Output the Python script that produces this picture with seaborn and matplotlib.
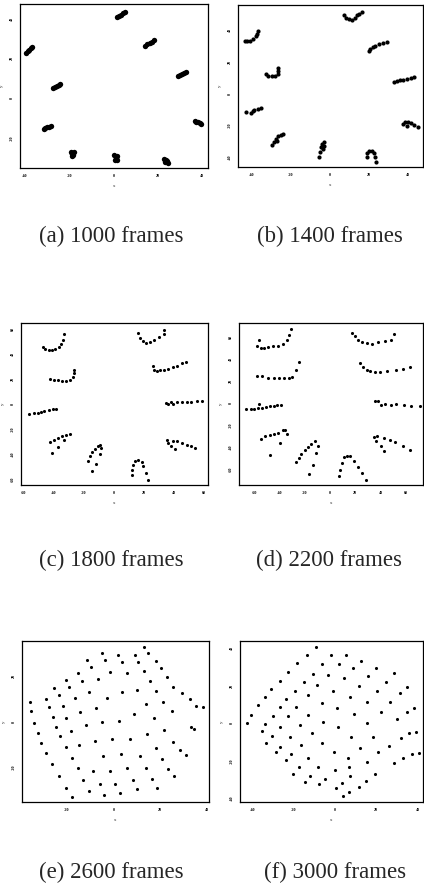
import matplotlib
matplotlib.use('Agg')
import matplotlib.pyplot as plt
import seaborn as sns
import pandas as pd

sns.set_style('white')
plt.rcParams['font.family'] = ['Liberation Serif', 'DejaVu Serif']

# ---- point positions ----
# (a) 1000 frames
a_x = [1.5, 2.4, 3.3, 4.2, 5.1, 14.3, 15.2, 16.2, 17.1, 18.0,
       -39.3, -38.7, -38.1, -37.4, -36.8, 29.0, 29.9, 30.8, 31.8, 32.7,
       -27.3, -26.4, -25.7, -24.8, -24.0, -31.5, -30.8, -30.0, -29.1, -28.4,
       36.5, 37.2, 38.0, 38.7, 39.5, -19.2, -18.0, -18.6, -18.9, -18.3,
       0.3, 1.5, 0.9, 0.6, 1.5, 22.5, 23.4, 24.0, 24.6, 23.3]
a_y = [40.8, 41.5, 42.0, 42.7, 43.3, 26.4, 27.0, 27.7, 28.4, 29.1,
       22.7, 23.5, 24.2, 25.0, 25.7, 11.3, 11.6, 12.1, 12.6, 12.9,
       5.0, 5.5, 6.0, 6.7, 7.2, -15.3, -15.0, -14.6, -14.3, -13.9,
       -11.3, -11.8, -12.1, -12.4, -12.9, -26.9, -27.0, -28.1, -29.1, -28.7,
       -28.7, -29.1, -30.1, -31.1, -31.2, -30.4, -30.9, -31.8, -32.4, -31.9]

# (b) 1400 frames
b_x = [7.1, 8.5, 9.8, 11.3, 12.7, 14.0, 15.2, 16.4,
       20.3, 20.8, 22.0, 23.2, 25.4, 27.0, 29.2,
       -43.4, -42.1, -40.6, -38.9, -37.7, -37.0, -36.3,
       -32.6, -31.3, -29.6, -27.9, -26.5, -26.2, -26.5,
       33.0, 34.3, 35.7, 37.2, 39.4, 41.4, 43.3,
       -42.8, -40.1, -38.4, -36.7, -35.0, -38.9,
       37.2, 38.4, 40.1, 41.4, 42.8, 45.1, 39.7,
       -29.2, -28.6, -27.4, -26.2, -24.8, -24.0, -26.9,
       -5.6, -5.1, -4.6, -3.9, -3.0, -2.9, -3.4,
       18.9, 19.1, 19.9, 21.5, 22.5, 23.2, 23.5]
b_y = [48.9, 47.4, 46.4, 46.2, 47.4, 48.9, 49.9, 51.0,
       26.6, 28.1, 29.1, 29.5, 30.8, 31.6, 32.4,
       32.9, 32.7, 33.1, 33.9, 35.8, 37.4, 39.1,
       12.1, 11.0, 10.8, 11.2, 12.1, 14.1, 15.8,
       7.3, 7.9, 8.3, 8.7, 9.2, 9.6, 10.2,
       -11.4, -12.1, -10.4, -9.4, -9.2, -11.0,
       -19.1, -17.9, -17.7, -18.7, -19.8, -20.8, -20.4,
       -32.4, -30.2, -28.1, -26.6, -25.6, -25.0, -29.5,
       -39.5, -36.4, -33.3, -31.2, -30.2, -32.9, -34.9,
       -39.9, -37.4, -35.8, -35.8, -37.4, -39.5, -42.6]

# (c) 1800 frames
c_x = [-46.9, -45.3, -43.1, -40.9, -38.7, -36.5, -34.9, -33.8, -32.7,
       -42.0, -39.8, -37.1, -34.3, -31.4, -28.7, -27.0, -26.1, -26.1,
       -56.4, -53.0, -50.4, -48.2, -46.0, -43.1, -40.2, -38.5,
       -42.4, -39.8, -37.1, -34.3, -31.4, -29.2, -33.2, -40.9, -37.1,
       -17.2, -15.9, -14.4, -12.6, -10.6, -8.8, -8.2, -8.8, -11.5, -14.4,
       12.2, 12.2, 12.8, 14.4, 16.6, 18.8, 19.9, 21.4, 22.8,
       16.1, 17.7, 19.4, 21.7, 24.3, 27.0, 30.5, 33.6, 33.6,
       26.5, 27.0, 28.7, 30.9, 33.6, 36.5, 39.3, 42.0, 45.3, 48.2,
       34.7, 36.5, 38.0, 39.8, 42.0, 45.3, 48.6, 51.9, 55.3, 59.2,
       35.4, 36.5, 38.0, 39.8, 42.4, 45.3, 48.6, 51.3, 54.1, 40.9]
c_y = [46.2, 44.3, 43.5, 43.5, 44.1, 45.7, 48.3, 51.5, 56.3,
       20.3, 19.5, 19.0, 18.7, 18.7, 19.5, 21.6, 24.8, 27.5,
       -7.7, -7.2, -6.7, -6.1, -5.3, -4.5, -4.0, -3.7,
       -30.7, -28.6, -27.2, -25.9, -24.6, -23.8, -28.6, -39.2, -34.7,
       -45.9, -41.9, -38.7, -35.8, -33.9, -32.6, -35.2, -39.8, -47.8, -53.9,
       -56.6, -52.6, -48.6, -45.9, -45.1, -46.7, -49.9, -55.3, -60.6,
       56.9, 53.4, 51.0, 49.4, 50.2, 51.5, 53.7, 56.3, 59.5,
       30.2, 27.0, 26.2, 27.0, 27.5, 28.3, 29.4, 30.7, 32.8, 33.4,
       1.3, 0.3, 2.1, 0.3, 2.1, 2.1, 2.1, 2.1, 2.7, 2.9,
       -28.6, -31.2, -33.9, -29.9, -29.9, -31.2, -32.6, -33.4, -35.2, -36.0]

# (d) 2200 frames
d_x = [-56.5, -58.4, -55.2, -52.6, -49.2, -45.5, -41.3, -37.6, -34.2, -32.3, -30.8,
       -57.9, -54.4, -49.2, -44.7, -40.8, -36.8, -32.9, -30.2, -27.1, -25.0,
       -66.5, -63.1, -60.5, -57.3, -54.4, -51.3, -48.1, -44.7, -42.1, -38.7, -56.5,
       -55.2, -51.8, -48.1, -44.7, -41.3, -37.6, -35.5, -34.2, -39.5, -48.1,
       -27.1, -25.0, -22.9, -20.3, -17.6, -15.0, -11.8, -9.7, -11.3, -13.9, -16.6,
       7.1, 8.2, 9.2, 11.3, 13.2, 15.8, 19.2, 22.4, 25.5, 28.1,
       17.6, 19.7, 22.4, 25.5, 28.9, 32.9, 38.1, 43.9, 48.7, 50.8,
       23.7, 26.3, 28.9, 31.6, 35.5, 39.5, 45.5, 52.6, 57.9, 63.6,
       35.5, 38.1, 40.8, 43.4, 48.1, 52.6, 58.6, 64.4, 71.0,
       35.0, 37.6, 36.8, 40.8, 42.9, 42.9, 47.3, 51.8, 57.9, 63.1]
d_y = [57.0, 52.1, 50.0, 50.0, 50.6, 51.5, 52.4, 53.9, 57.6, 62.1, 67.3,
       24.8, 25.1, 23.0, 23.0, 23.0, 23.0, 23.0, 24.2, 29.7, 37.0,
       -5.5, -5.2, -5.2, -4.5, -4.5, -3.6, -3.0, -2.4, -1.8, -1.5, -0.6,
       -32.7, -30.3, -28.8, -27.9, -26.7, -24.8, -24.2, -27.9, -35.8, -47.0,
       -53.9, -50.0, -46.1, -43.0, -40.0, -37.0, -34.8, -38.8, -45.5, -56.1, -64.2,
       -65.8, -60.6, -54.5, -49.1, -48.5, -47.9, -53.0, -57.6, -63.6, -70.3,
       63.6, 60.6, 57.6, 55.4, 54.5, 53.9, 55.4, 56.1, 57.6, 63.0,
       36.4, 33.3, 30.3, 28.8, 27.9, 27.9, 29.4, 30.3, 30.9, 32.7,
       2.1, 2.4, -1.5, -0.6, -1.5, -0.9, -1.5, -2.4, -2.4,
       -30.9, -30.3, -34.8, -39.4, -43.9, -31.8, -33.3, -35.5, -39.4, -43.0]

# (e) 2600 frames
e_x = [13.2, 15.0, -5.0, 2.1, 9.3, -11.4, -3.6, 3.6, 10.7, 18.2,
       -9.7, -1.4, 6.0, 13.2, 20.4, -15.4, -20.4, -13.6, -6.7, 15.7,
       23.2, -25.5, -19.3, 25.7, -29.0, -23.6, -16.4, -10.7, -2.9, 3.6,
       10.0, 18.3, 29.3, -36.0, -35.5, -27.9, -21.9, -14.3, -7.6, 13.9,
       21.5, 32.9, 35.5, 38.3, -26.2, -20.4, 8.9, 17.6, 25.0, -5.0,
       2.4, -34.0, -24.6, -18.2, -11.7, 33.2, 34.6, 21.6, -32.6, -22.9,
       14.3, -0.7, 7.2, -7.9, -31.2, -20.3, -14.7, 25.5, 18.3, 28.6,
       -28.9, -17.9, -4.3, 3.1, 11.4, 31.0, 20.7, -26.3, -15.3, -8.6,
       -1.4, 5.7, 14.0, 23.6, -23.6, -12.9, -5.7, 0.7, 8.2, 16.6,
       26.0, -20.4, -10.3, -3.9, 2.9, 10.0, 18.6, -17.9]
e_y = [32.3, 30.0, 29.7, 29.0, 29.0, 26.8, 26.8, 26.1, 26.1, 26.5,
       23.6, 21.8, 21.0, 22.0, 23.2, 21.3, 18.1, 17.8, 18.4, 17.7,
       19.3, 14.8, 15.2, 14.9, 9.9, 11.6, 10.4, 13.1, 10.4, 12.8,
       13.8, 13.3, 12.3, 8.4, 4.6, 6.5, 6.8, 4.4, 6.2, 7.7,
       8.4, 9.7, 6.8, 6.5, 1.9, 1.5, 3.2, 1.5, 4.6, 0.0,
       0.4, -0.7, -2.2, -3.9, -1.5, -2.2, -3.3, -3.6, -5.1, -6.1,
       -5.4, -7.5, -7.5, -8.4, -9.4, -10.9, -10.3, -8.7, -11.3, -12.3,
       -13.6, -15.7, -14.9, -14.1, -14.8, -14.4, -16.2, -18.4, -20.3, -21.5,
       -21.5, -19.9, -19.9, -20.6, -23.5, -25.4, -27.1, -27.1, -25.5, -24.9,
       -23.6, -28.6, -30.2, -31.9, -31.2, -29.4, -28.9, -32.6]

# (f) 3000 frames
f_x = [-9.1, -13.3, -2.1, 5.3, 12.5, -18.4, -6.1, 2.1, 8.8, 19.7,
       -22.7, -10.7, -3.2, 4.2, 16.0, 28.3, -26.7, -15.2, -8.8, 11.5,
       24.5, 34.9, -30.7, -19.2, -13.1, -0.8, 20.3, 31.2, -33.9, -23.7,
       7.2, 15.7, 26.7, 38.4, -37.1, -26.4, -18.7, -6.4, 0.8, 34.6,
       -40.6, -29.9, -22.7, -12.8, 9.1, 22.4, 29.9, -42.4, -33.6, -26.4,
       -16.8, -5.6, 1.3, 15.5, 39.2, -35.5, -30.4, -21.6, -11.2, 7.5,
       18.4, 31.7, 36.0, -33.1, -26.4, -16.5, -6.4, 12.3, 26.1, 37.3,
       40.8, -28.5, -21.1, -13.1, -0.5, 6.1, 20.8, 32.8, -23.7, -17.3,
       -8.0, 0.0, 6.9, 15.5, 28.5, -20.3, -12.3, -4.8, 7.2, 19.2,
       -14.7, -7.5, 3.2, 11.5, 14.9, 0.3, 6.9, 4.0]
f_y = [40.7, 36.3, 36.3, 36.3, 33.3, 31.9, 31.5, 31.5, 29.2, 29.2,
       27.4, 26.2, 25.7, 23.9, 25.3, 26.6, 22.7, 22.1, 20.4, 19.8,
       22.1, 19.1, 18.2, 17.3, 15.0, 17.3, 17.2, 15.9, 14.2, 12.9,
       13.8, 11.5, 11.5, 8.1, 9.7, 8.9, 8.9, 11.0, 8.0, 5.8,
       4.4, 4.1, 4.1, 4.4, 5.0, 5.8, 2.3, 0.0, -0.5, -1.8,
       -0.9, 0.9, -2.1, 0.4, -4.4, -4.1, -6.7, -7.1, -5.3, -7.1,
       -7.4, -8.0, -5.3, -10.3, -12.4, -11.7, -10.6, -12.9, -11.9, -16.3,
       -15.9, -15.4, -16.5, -18.2, -15.4, -18.2, -15.4, -18.6, -19.5, -23.4,
       -23.0, -24.8, -23.0, -20.4, -21.2, -26.6, -28.0, -29.7, -27.8, -26.9,
       -31.0, -32.4, -31.5, -33.6, -30.6, -34.5, -36.3, -38.6]

captions = ['(a) 1000 frames', '(b) 1400 frames', '(c) 1800 frames',
            '(d) 2200 frames', '(e) 2600 frames', '(f) 3000 frames']

panels = [
    dict(x=a_x, y=a_y, xlim=(-42.2, 42.4), ylim=(-35.0, 47.1),
         xt=[-40, -20, 0, 20, 40], yt=[-20, 0, 20, 40], s=15,
         rect=[0.047, 0.810, 0.443, 0.185], cap=(0.262, 0.7327)),
    dict(x=b_x, y=b_y, xlim=(-46.8, 47.5), ylim=(-45.8, 55.1),
         xt=[-40, -20, 0, 20, 40], yt=[-40, -20, 0, 20, 40], s=9,
         rect=[0.561, 0.811, 0.436, 0.183], cap=(0.777, 0.7327)),
    dict(x=c_x, y=c_y, xlim=(-61.4, 63.0), ylim=(-64.6, 64.9),
         xt=[-60, -40, -20, 0, 20, 40, 60], yt=[-60, -40, -20, 0, 20, 40, 60], s=5,
         rect=[0.050, 0.451, 0.441, 0.183], cap=(0.262, 0.3658)),
    dict(x=d_x, y=d_y, xlim=(-72.3, 73.9), ylim=(-74.2, 72.7),
         xt=[-60, -40, -20, 0, 20, 40, 60], yt=[-60, -40, -20, 0, 20, 40, 60], s=5,
         rect=[0.564, 0.451, 0.434, 0.183], cap=(0.777, 0.3658)),
    dict(x=e_x, y=e_y, xlim=(-39.3, 41.1), ylim=(-34.8, 35.1),
         xt=[-20, 0, 20, 40], yt=[-20, 0, 20], s=5,
         rect=[0.052, 0.092, 0.441, 0.182], cap=(0.262, 0.0125)),
    dict(x=f_x, y=f_y, xlim=(-45.9, 42.6), ylim=(-41.6, 43.7),
         xt=[-40, -20, 0, 20, 40], yt=[-40, -20, 0, 20, 40], s=5,
         rect=[0.566, 0.092, 0.432, 0.182], cap=(0.79, 0.0125)),
]

fig = plt.figure(figsize=(4.24, 8.83), dpi=100)

for p, cap in zip(panels, captions):
    ax = fig.add_axes(p['rect'])
    df = pd.DataFrame({'x': p['x'], 'y': p['y']})
    sns.scatterplot(data=df, x='x', y='y', ax=ax, color='black',
                    s=p['s'], linewidth=0, legend=False)
    ax.set_xlim(p['xlim'])
    ax.set_ylim(p['ylim'])
    ax.set_xticks(p['xt'])
    ax.set_yticks(p['yt'])
    ax.set_xticklabels([str(v) for v in p['xt']], fontsize=3, fontweight='bold')
    ax.set_yticklabels([str(v) for v in p['yt']], fontsize=3, fontweight='bold',
                       rotation=90, va='center')
    ax.tick_params(length=1.5, width=0.5, pad=3, colors='black')
    ax.set_xlabel('x', fontsize=3.5, labelpad=4)
    ax.set_ylabel('y', fontsize=3.5, labelpad=4)
    for sp in ax.spines.values():
        sp.set_color('black')
        sp.set_linewidth(0.9)
    fig.text(p['cap'][0], p['cap'][1], cap, ha='center', va='center',
             fontsize=16.5, family=['Liberation Serif', 'DejaVu Serif'])

fig.savefig('out.png', dpi=100, facecolor='white')
